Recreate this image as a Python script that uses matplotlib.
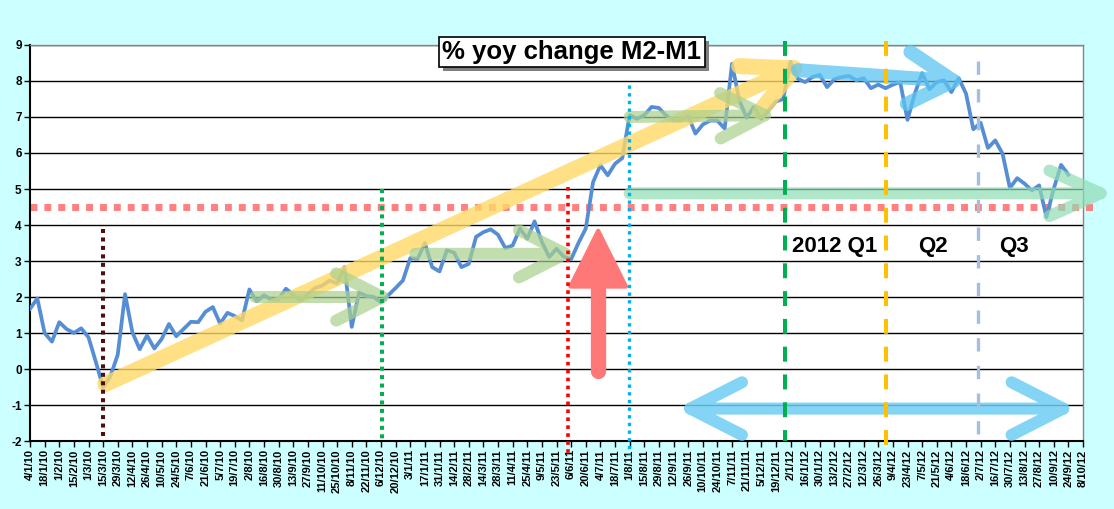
import matplotlib
matplotlib.use("Agg")
import matplotlib.pyplot as plt
import matplotlib.transforms as mtransforms
from matplotlib.patches import Rectangle
import numpy as np
import pandas as pd

plt.rcParams['font.family'] = ['Liberation Sans', 'DejaVu Sans']

# weekly % yoy change of M2-M1, starting Monday 4/1/10
start_date = "2010-01-04"
yoy_change = [
    1.67, 1.96, 1.00, 0.76, 1.30, 1.11, 1.00, 1.13, 0.88, 0.20,
    -0.51, -0.20, 0.40, 2.08, 1.02, 0.55, 0.93, 0.57, 0.83, 1.25,
    0.91, 1.11, 1.31, 1.30, 1.59, 1.72, 1.26, 1.56, 1.47, 1.35,
    2.21, 1.88, 2.05, 1.93, 1.93, 2.23, 2.06, 1.90, 2.09, 2.25,
    2.32, 2.46, 2.37, 2.83, 1.17, 2.12, 2.03, 2.00, 1.85, 2.05,
    2.25, 2.46, 3.08, 3.06, 3.50, 2.83, 2.71, 3.30, 3.23, 2.83,
    2.92, 3.67, 3.80, 3.88, 3.73, 3.36, 3.43, 3.90, 3.62, 4.10,
    3.53, 3.11, 3.34, 3.12, 3.05, 3.50, 3.90, 5.19, 5.66, 5.38,
    5.70, 5.86, 7.05, 6.95, 7.05, 7.28, 7.25, 7.04, 6.90, 6.90,
    7.03, 6.54, 6.79, 6.90, 6.90, 6.68, 8.48, 7.46, 6.98, 7.28,
    6.95, 7.18, 7.43, 7.50, 8.53, 8.06, 7.97, 8.11, 8.17, 7.83,
    8.05, 8.11, 8.14, 8.02, 8.08, 7.80, 7.90, 7.80, 7.90, 7.97,
    6.92, 7.65, 8.22, 7.77, 7.97, 8.02, 7.69, 8.08, 7.65, 6.66,
    6.84, 6.14, 6.35, 5.98, 5.03, 5.30, 5.15, 4.96, 5.10, 4.22,
    5.01, 5.67, 5.40,
]
n_tick_labels = 73          # one label every two weeks, 4/1/10 .. 8/10/12
y_ticks = list(range(-2, 10))
quarter_labels = ["2012 Q1", "Q2", "Q3"]

weeks = np.arange(len(yoy_change))
tick_dates = pd.date_range(start_date, periods=n_tick_labels, freq="14D")
tick_labels = [f"{d.day}/{d.month}/{d.year % 100}" for d in tick_dates]
tick_pos = np.arange(n_tick_labels) * 2

fig = plt.figure(figsize=(11.14, 5.09), dpi=100, facecolor="#CCFFFF")
ax = fig.add_axes([30 / 1114, 68 / 509, 1053 / 1114, 396 / 509])
ax.set_facecolor("white")
ax.set_xlim(0, tick_pos[-1])
ax.set_ylim(-2, 9)

ax.set_yticks(y_ticks)
ax.set_yticklabels([str(v) for v in y_ticks], fontsize=8.5, fontweight="bold")
ax.set_xticks(tick_pos)
ax.set_xticklabels(tick_labels, rotation=90, fontsize=8, fontweight="bold")
ax.tick_params(axis="both", direction="out", length=4, width=1, pad=2)
ax.yaxis.grid(True, color="black", linewidth=1)
ax.set_axisbelow(True)
for side in ("left", "bottom"):
    ax.spines[side].set_color("black")
    ax.spines[side].set_linewidth(1.5)
for side in ("top", "right"):
    ax.spines[side].set_color("#868686")
    ax.spines[side].set_linewidth(1)

ax.plot(weeks, yoy_change, color="#558ED5", linewidth=2.7, zorder=3,
        solid_joinstyle="round")


def arrow(x0, y0, x1, y1, color, width_px, alpha=0.7, head=55, ang=27,
          double=False, clip=True):
    tr = ax.transData
    p0 = tr.transform((x0, y0))
    p1 = tr.transform((x1, y1))
    d = (p0 - p1) / np.hypot(*(p0 - p1))

    def arms(tip, v):
        out = []
        for s in (1, -1):
            a = np.radians(ang * s)
            r = np.array([v[0] * np.cos(a) - v[1] * np.sin(a),
                          v[0] * np.sin(a) + v[1] * np.cos(a)])
            out.append(tip + r * head)
        return out

    a1, a2 = arms(p1, d)
    nan = [np.nan, np.nan]
    pts = [a1, p1, a2, nan, p0, p1]
    if double:
        b1, b2 = arms(p0, -d)
        pts += [nan, b1, p0, b2]
    pts = tr.inverted().transform(np.array(pts, dtype=float))
    ax.plot(pts[:, 0], pts[:, 1], color=color, alpha=alpha,
            linewidth=width_px * 0.72, solid_capstyle="round",
            solid_joinstyle="round", clip_on=clip, zorder=4)


# horizontal pink dotted level
ax.plot([0, 146.1], [4.5, 4.5], color="#FF8080", linewidth=5,
        dashes=(1, 1), dash_capstyle="butt", clip_on=False, zorder=2.5)

# trend arrows
arrow(10.3, -0.42, 104.5, 8.35, "#FFD966", 16, alpha=0.8)
arrow(30.8, 2.0, 48.2, 2.0, "#A9D18E", 12, alpha=0.7, head=52)
arrow(52.7, 3.2, 73.2, 3.2, "#A9D18E", 12, alpha=0.7, head=52)
arrow(82.0, 7.0, 100.5, 7.05, "#A9D18E", 12, alpha=0.7, head=50)
arrow(82.0, 4.88, 146.4, 4.88, "#8FDCB4", 12, alpha=0.7, head=56, ang=24,
      clip=False)
arrow(105.0, 8.3, 126.3, 8.0, "#5BC5F2", 14, alpha=0.75, head=52, ang=30)
arrow(90.3, -1.1, 141.3, -1.1, "#6FCDF5", 12, alpha=0.85, head=58,
      double=True)

# red up arrow
ax.plot([77.7, 77.7], [-0.05, 2.5], color="#FF7878", linewidth=11,
        solid_capstyle="round", zorder=4)
ax.fill([73.9, 77.7, 81.5], [2.29, 3.84, 2.29], color="#FF7878",
        linewidth=3, edgecolor="#FF7878", joinstyle="round", zorder=4)

# event markers
ax.plot([10, 10], [3.9, -2], color="#4D0F0F", linewidth=2.9, dashes=(1, 1.1),
        zorder=5)
ax.plot([48.1, 48.1], [5.0, -2], color="#00B050", linewidth=2.9,
        dashes=(1, 1.1), zorder=5)
ax.plot([73.6, 73.6], [5.05, -2.35], color="#FF0000", linewidth=2.6,
        dashes=(1, 1.2), clip_on=False, zorder=5)
ax.plot([81.9, 81.9], [7.9, -2.35], color="#00B0F0", linewidth=2.4,
        dashes=(1, 1.3), clip_on=False, zorder=5)
ax.plot([103.3, 103.3], [9.1, -2.0], color="#00B050", linewidth=2.9,
        dashes=(3.7, 3.2), clip_on=False, zorder=5)
ax.plot([117.0, 117.0], [9.1, -2.35], color="#FFC000", linewidth=2.9,
        dashes=(3.7, 3.2), clip_on=False, zorder=5)
ax.plot([129.7, 129.7], [8.55, -2.0], color="#A4BEE0", linewidth=2.4,
        dashes=(4.0, 4.3), zorder=5)

for label, xq in zip(quarter_labels, [110.1, 123.5, 134.5]):
    ax.text(xq, 3.4, label, fontsize=16, fontweight="bold", ha="center",
            va="center", zorder=6)

# title box with drop shadow
title = fig.text(572 / 1114, 1 - 52 / 509, "% yoy change M2-M1",
                 fontsize=18.5, fontweight="bold", color="black",
                 ha="center", va="center", zorder=10,
                 bbox=dict(boxstyle="square,pad=0.12", facecolor="white",
                           edgecolor="black", linewidth=1.2))
fig.canvas.draw()
bb = title.get_bbox_patch().get_window_extent()
fig.add_artist(Rectangle((bb.x0 + 4, bb.y0 - 4), bb.width, bb.height,
                         transform=mtransforms.IdentityTransform(),
                         facecolor="#808080", edgecolor="none", zorder=9))

fig.savefig("out.png", dpi=100, facecolor=fig.get_facecolor())
